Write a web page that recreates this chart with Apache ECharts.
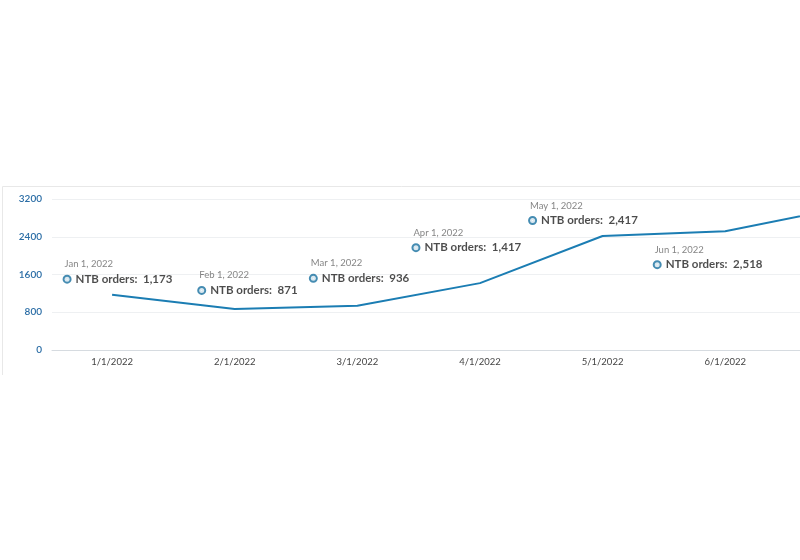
<!DOCTYPE html>
<html>
<head>
<meta charset="utf-8">
<script src="https://cdn.jsdelivr.net/npm/echarts@6/dist/echarts.min.js"></script>
<style>
  html, body { margin: 0; padding: 0; background: #ffffff; }
  #chart { width: 800px; height: 560px; }
</style>
</head>
<body>
<div id="chart"></div>
<script>
// ---- data ----
var xTickLabels = ['1/1/2022', '2/1/2022', '3/1/2022', '4/1/2022', '5/1/2022', '6/1/2022'];
var pointDates = ['Jan 1, 2022', 'Feb 1, 2022', 'Mar 1, 2022', 'Apr 1, 2022', 'May 1, 2022', 'Jun 1, 2022', 'Jul 1, 2022'];
var ntbOrders = [1173, 871, 936, 1417, 2417, 2518, 3040];
var yTicks = [0, 800, 1600, 2400, 3200];
var seriesName = 'NTB orders';

// ---- layout (annotation offsets in px, not data) ----
var annotationOffsets = [[-47, -37], [-35, -40], [-46, -49], [-66, -57], [-72, -37], [-70, 12]];

var lineColor = '#1b7db3';
var fontFam = 'Lato, "Open Sans", sans-serif';

function fmt(n) { return n.toLocaleString('en-US'); }

var lineData = ntbOrders.map(function (v, i) { return [i, v]; });
var annData = [];
for (var i = 0; i < xTickLabels.length; i++) {
  annData.push({
    value: [i, ntbOrders[i]],
    label: {
      position: annotationOffsets[i],
      formatter: '{d|' + pointDates[i] + '}\n{o|}{t|' + seriesName + ':  ' + fmt(ntbOrders[i]) + '}'
    }
  });
}

var chart = echarts.init(document.getElementById('chart'), null, { renderer: 'canvas' });
chart.setOption({
  backgroundColor: '#ffffff',
  animation: false,
  graphic: [
    { type: 'line', shape: { x1: 2.5, y1: 186.5, x2: 800, y2: 186.5 }, style: { stroke: '#e8e8e8', lineWidth: 1 } },
    { type: 'line', shape: { x1: 2.5, y1: 186.5, x2: 2.5, y2: 375 }, style: { stroke: '#e8e8e8', lineWidth: 1 } }
  ],
  grid: { left: 52, right: 0, top: 199, bottom: 210, containLabel: false },
  xAxis: {
    type: 'value',
    min: -0.49,
    max: 5.61,
    axisLine: { show: true, lineStyle: { color: '#d6dbe0', width: 1 } },
    axisTick: { show: false },
    splitLine: { show: false },
    axisLabel: {
      customValues: xTickLabels.map(function (_, i) { return i; }),
      formatter: function (v) { return xTickLabels[Math.round(v)] || ''; },
      color: '#444444',
      fontSize: 9.5,
      fontFamily: fontFam,
      margin: 7
    }
  },
  yAxis: {
    type: 'value',
    min: yTicks[0],
    max: yTicks[yTicks.length - 1],
    interval: yTicks[1] - yTicks[0],
    axisLine: { show: false },
    axisTick: { show: false },
    splitLine: { show: true, lineStyle: { color: '#eef0f2', width: 1 } },
    axisLabel: {
      formatter: function (v) { return String(v); },
      color: '#2c6ea6',
      fontSize: 10,
      fontWeight: 600,
      fontFamily: fontFam,
      margin: 10
    }
  },
  series: [
    {
      type: 'line',
      name: seriesName,
      data: lineData,
      showSymbol: false,
      clip: true,
      lineStyle: { color: lineColor, width: 2 },
      z: 2
    },
    {
      type: 'scatter',
      data: annData,
      symbolSize: 1,
      itemStyle: { color: 'rgba(0,0,0,0)' },
      silent: true,
      z: 5,
      label: {
        show: true,
        align: 'left',
        verticalAlign: 'top',
        fontFamily: fontFam,
        rich: {
          d: { fontSize: 9.5, color: '#666666', lineHeight: 14, fontFamily: fontFam },
          o: { width: 5, height: 5, borderWidth: 2, borderColor: '#176f9f', borderRadius: 6, backgroundColor: '#ffffff' },
          t: { fontSize: 11.5, fontWeight: 'bold', color: '#1f1f1f', lineHeight: 16, padding: [0, 0, 0, 6], fontFamily: fontFam }
        }
      }
    }
  ]
});
</script>
</body>
</html>
